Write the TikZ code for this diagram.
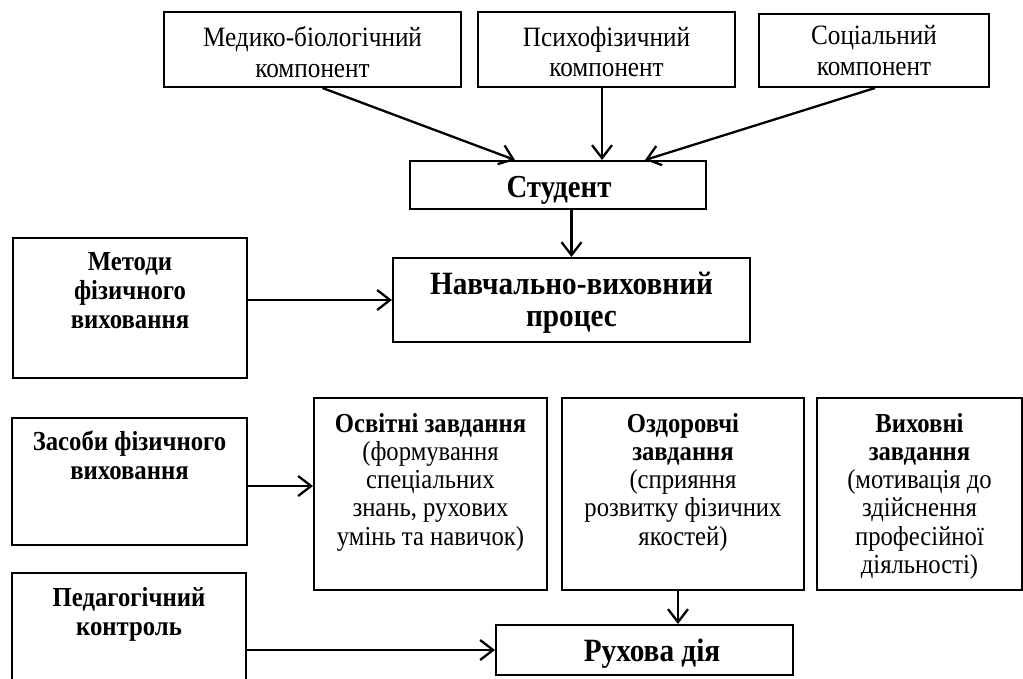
\documentclass[tikz,border=0pt]{standalone}
\usepackage{fontspec}
\setmainfont{Liberation Serif}[FakeStretch=0.9]
\usetikzlibrary{arrows.meta}
\begin{document}
\begin{tikzpicture}[x=1pt,y=-1pt,
  box/.style={draw,line width=2pt,inner sep=0pt,rectangle},
  lbl/.style={inner sep=0pt,align=center,anchor=north},
  arr/.style={line width=2.3pt,-{Straight Barb[length=13pt,width=20pt,line width=2.3pt]}},
  topf/.style={font=\fontsize{28}{30.5}\selectfont},
  lowf/.style={font=\fontsize{27.4}{28.2}\selectfont},
  leftf/.style={font=\bfseries\fontsize{27.5}{29}\selectfont},
  bigf/.style={font=\bfseries\fontsize{32.5}{32}\selectfont},
]
\useasboundingbox (0,0) rectangle (1023,678);

% boxes
\node[box,minimum width=297pt,minimum height=75pt] (b1) at (312.5,49.5) {};
\node[box,minimum width=257pt,minimum height=75pt] (b2) at (606.5,49.5) {};
\node[box,minimum width=230pt,minimum height=73pt] (b3) at (874,50.5) {};
\node[box,minimum width=296pt,minimum height=48pt] (st) at (558,185) {};
\node[box,minimum width=357pt,minimum height=84pt] (np) at (571.5,300) {};
\node[box,minimum width=234pt,minimum height=140pt] (mt) at (130,308) {};
\node[box,minimum width=235pt,minimum height=127pt] (zs) at (129.5,481.5) {};
\node[box,minimum width=233pt,minimum height=192pt] (os) at (430.5,494) {};
\node[box,minimum width=242pt,minimum height=192pt] (oz) at (683,494) {};
\node[box,minimum width=205pt,minimum height=192pt] (vy) at (919.5,494) {};
\node[box,minimum width=234pt,minimum height=127pt] (pk) at (129,636.5) {};
\node[box,minimum width=297pt,minimum height=50pt] (rd) at (644.5,650) {};

% labels
\node[lbl,topf] (t1) at (312.5,26.5) {Медико-біологічний\\компонент};
\node[lbl,topf] (t2) at (606.5,26.5) {Психофізичний\\компонент};
\node[lbl,topf] (t3) at (874,25.5) {Соціальний\\компонент};
\node[lbl,font=\bfseries\fontsize{32}{31}\selectfont] (tst) at (559,176) {Студент};
\node[lbl,bigf] (tnp) at (571.5,271.6) {Навчально-виховний\\процес};
\node[lbl,leftf] (tmt) at (130,251.8) {Методи\\фізичного\\виховання};
\node[lbl,leftf] (tzs) at (129.5,430.7) {Засоби фізичного\\виховання};
\node[lbl,leftf] (tpk) at (129,587) {Педагогічний\\контроль};
\node[lbl,lowf] (tos) at (430.5,413) {\textbf{Освітні завдання}\\(формування\\спеціальних\\знань, рухових\\умінь та навичок)};
\node[lbl,lowf] (toz) at (683,413) {\textbf{Оздоровчі}\\\textbf{завдання}\\(сприяння\\розвитку фізичних\\якостей)};
\node[lbl,lowf] (tvy) at (919.5,413) {\textbf{Виховні}\\\textbf{завдання}\\(мотивація до\\здійснення\\професійної\\діяльності)};
\node[lbl,bigf] (trd) at (652,638.5) {Рухова дія};

% connectors
\draw[arr] ([xshift=10pt]b1.south) -- ([xshift=-43pt]st.north);
\draw[arr] ([xshift=-4.5pt]b2.south) -- ([xshift=44pt]st.north);
\draw[arr] ([xshift=1pt]b3.south) -- ([xshift=87pt]st.north);
\draw[arr] (np.north |- st.south) -- (np.north);
\draw[arr] (mt.east |- np.west) -- (np.west);
\draw[arr] ([yshift=-4.5pt]zs.east) -- ([yshift=-4.5pt]zs.east -| os.west);
\draw[arr] ([xshift=-5pt]oz.south) -- ([xshift=-5pt]oz.south |- rd.north);
\draw[arr] (pk.east |- rd.west) -- (rd.west);
\end{tikzpicture}
\end{document}
